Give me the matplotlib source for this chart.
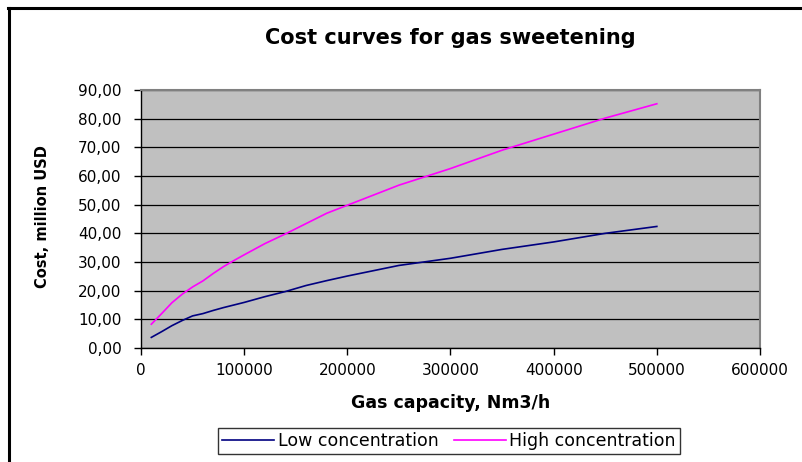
import matplotlib.pyplot as plt
from matplotlib.lines import Line2D
from matplotlib.ticker import FuncFormatter

# Gas capacity (Nm3/h) and cost (million USD)
capacity = [10000, 20000, 30000, 40000, 50000, 60000, 70000, 80000, 90000, 100000,
            120000, 140000, 160000, 180000, 200000, 250000, 300000, 350000,
            400000, 450000, 500000]
cost_low = [3.7, 5.7, 7.8, 9.6, 11.2, 12.0, 13.1, 14.1, 15.0, 15.9,
            17.9, 19.7, 21.8, 23.5, 25.1, 28.8, 31.3, 34.4, 37.0, 40.0, 42.4]
cost_high = [8.3, 12.0, 15.8, 18.8, 21.3, 23.4, 26.0, 28.4, 30.5, 32.5,
             36.4, 39.8, 43.4, 47.0, 49.8, 56.8, 62.6, 69.0, 74.6, 80.2, 85.2]

plt.rcParams['font.family'] = ['DejaVu Sans']

fig = plt.figure(figsize=(8.03, 4.62), dpi=100)
ax = fig.add_axes([141 / 803, 1 - 348 / 462, 619 / 803, 258 / 462])

ax.set_facecolor('#C0C0C0')
ax.plot(capacity, cost_low, color='#000080', lw=1.2, label='Low concentration')
ax.plot(capacity, cost_high, color='#FF00FF', lw=1.2, label='High concentration')

ax.set_xlim(0, 600000)
ax.set_ylim(0, 90)
ax.set_xticks(range(0, 600001, 100000))
ax.set_yticks(range(0, 91, 10))
ax.yaxis.set_major_formatter(FuncFormatter(lambda v, p: f'{v:.2f}'.replace('.', ',')))
ax.grid(axis='y', color='black', lw=0.9)
ax.set_axisbelow(True)
for s in ax.spines.values():
    s.set_color('#808080')
    s.set_linewidth(1.5)
ax.spines['left'].set_color('black')
ax.spines['left'].set_linewidth(1)
ax.spines['bottom'].set_color('black')
ax.spines['bottom'].set_linewidth(1)
ax.tick_params(direction='out', length=5, width=1, labelsize=11, colors='black')
ax.tick_params(axis='y', pad=9)
ax.tick_params(axis='x', pad=6)

ax.set_title('Cost curves for gas sweetening', fontsize=15, fontweight='bold', pad=33)
ax.set_xlabel('Gas capacity, Nm3/h', fontsize=12.5, fontweight='bold')
ax.xaxis.set_label_coords(0.501, (348 - 394) / 258)
ax.set_ylabel('Cost, million USD', fontsize=10.5, fontweight='bold')
ax.yaxis.set_label_coords((50 - 141) / 619, (348 - 217) / 258)

leg = fig.legend(handles=ax.get_lines(), loc='center', bbox_to_anchor=(449 / 803, 1 - 441 / 462),
                 ncol=2, frameon=True, fancybox=False, fontsize=12.5, handlelength=3.0,
                 handletextpad=0.2, columnspacing=0.9, borderpad=0.25, borderaxespad=0)
leg.get_frame().set_edgecolor('black')
leg.get_frame().set_linewidth(1)

# outer chart border (only left and top visible in the crop)
fig.add_artist(Line2D([9 / 803, 9 / 803], [0, 1 - 8 / 462], color='black', lw=2.2))
fig.add_artist(Line2D([8 / 803, 1.0], [1 - 8 / 462, 1 - 8 / 462], color='black', lw=2.2))

fig.savefig('out.png', dpi=100)
